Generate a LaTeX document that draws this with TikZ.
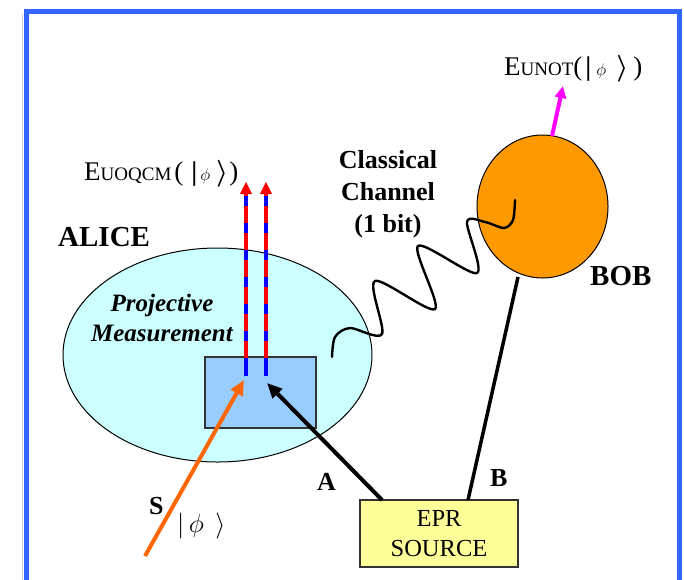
\documentclass[tikz,border=0pt]{standalone}
\usepackage{fix-cm}
\usepackage{fontspec}
\setmainfont{Liberation Serif}
\usetikzlibrary{shapes.geometric,arrows.meta}
\definecolor{frameblue}{HTML}{3366FF}
\definecolor{alicecyan}{HTML}{CCFFFF}
\definecolor{boxblue}{HTML}{99CCFF}
\definecolor{boborange}{HTML}{FF9900}
\definecolor{epryellow}{HTML}{FFFF99}
\definecolor{sorange}{HTML}{FF6600}
\definecolor{pinkarrow}{HTML}{FF00FF}
\definecolor{edgegray}{HTML}{333333}
\definecolor{dashblue}{HTML}{0000FF}
\definecolor{dashred}{HTML}{FF0000}
\begin{document}
\begin{tikzpicture}[x=1pt,y=-1pt,
  bigbold/.style={font=\fontsize{29}{32}\selectfont\bfseries, inner sep=0},
  midbold/.style={font=\fontsize{26}{32}\selectfont\bfseries, inner sep=0},
  chanlabel/.style={font=\fontsize{26}{32}\selectfont\bfseries, inner sep=0, align=center},
  projlabel/.style={font=\fontsize{25}{30}\selectfont\bfseries\itshape, inner sep=0, align=center},
  formula/.style={font=\fontsize{27}{27}\selectfont, inner sep=0},
  thickarrow/.style={line width=4pt, -{Triangle[length=15pt,width=13pt]}},
  qline/.style={line width=4.5pt},
  wave/.style={line width=2.4pt, line cap=round, line join=round}]
\useasboundingbox (0,0) rectangle (684,579);
% frame
\draw[gray!35, line width=1pt] (22.5,14) -- (22.5,582);
\draw[frameblue, line width=5pt] (26,582) -- (26,11) -- (679.5,11) -- (679.5,582);
% Alice region and measurement box
\node[ellipse, draw=black, line width=1pt, fill=alicecyan, minimum width=309pt, minimum height=214pt, inner sep=0] (alice) at (217.5,355) {};
\node[draw=edgegray, line width=1.3pt, fill=boxblue, minimum width=111pt, minimum height=71pt, inner sep=0] (meas) at (260.5,392.5) {};
% output lines of the measurement
\coordinate (q1b) at (246,376);
\coordinate (q1m) at (246,358);
\coordinate (q1t) at (246,194);
\coordinate (q1h) at (246,182);
\coordinate (q2b) at (266,376);
\coordinate (q2m) at (266,358);
\coordinate (q2t) at (266,194);
\coordinate (q2h) at (266,182);
\draw[qline, dashblue] (q1b) -- (q1t);
\draw[qline, dashred, dash pattern=on 17pt off 10pt] (q1m) -- (q1t);
\draw[dashred, line width=1pt, -{Triangle[length=12pt,width=12pt]}] (q1t) -- (q1h);
\draw[qline, dashblue] (q2b) -- (q2t);
\draw[qline, dashred, dash pattern=on 17pt off 10pt] (q2m) -- (q2t);
\draw[dashred, line width=1pt, -{Triangle[length=12pt,width=12pt]}] (q2t) -- (q2h);
% Bob
\node[ellipse, draw=black, line width=1pt, fill=boborange, minimum width=131pt, minimum height=143pt, inner sep=0] (bob) at (542.5,206.5) {};
% EPR source
\node[draw=edgegray, line width=1.3pt, fill=epryellow, minimum width=158pt, minimum height=67pt, inner sep=0, align=center, font=\fontsize{24.5}{30}\selectfont] (epr) at (439,533.5) {EPR\\SOURCE};
% connectors
\coordinate (eprA) at (382,500);
\coordinate (eprB) at (468,500);
\coordinate (bobB) at (518,277);
\coordinate (measA) at (267,383);
\coordinate (sstart) at (145,556);
\coordinate (measS) at (244,380);
\coordinate (bobtop) at (552,136);
\coordinate (unottip) at (563,86);
\draw[line width=3.5pt] (eprB) -- (bobB);
\draw[thickarrow, black] (eprA) -- (measA);
\draw[thickarrow, sorange] (sstart) -- (measS);
\draw[line width=4pt, pinkarrow, -{Triangle[length=12pt,width=11pt]}] (bobtop) -- (unottip);
% classical channel wave
\draw[wave] plot[smooth, tension=0.5] coordinates {(332,357) (335,337) (350,328) (382,334) (375,281) (435,309) (418,246) (477,273) (467,222) (485,222) (504,228) (513,220) (515,200)};
% labels
\node[bigbold, anchor=base west] (alicelbl) at (58,246) {ALICE};
\node[bigbold, anchor=base west] (boblbl) at (590,285) {BOB};
\node[midbold, anchor=base west] (albl) at (317,490) {A};
\node[midbold, anchor=base west] (blbl) at (490,486) {B};
\node[midbold, anchor=base west] (slbl) at (149,514) {S};
\node[inner sep=0, anchor=west, font=\fontsize{26}{26}\selectfont] (phiS) at (177,526) {$\bigl|\,\phi\;\,\bigr\rangle$};
\node[chanlabel, anchor=north] (chan) at (388,150) {Classical\\Channel\\(1 bit)};
\node[projlabel, anchor=north] (proj) at (162,294) {Projective\\Measurement};
\node[formula, anchor=base west] (euoqcm) at (84,180) {E{\fontsize{19}{19}\selectfont UOQCM}\hspace{3pt}(\hspace{8pt}{\bfseries\textbar}\hspace{3pt}{\fontsize{17}{17}\selectfont$\phi$}\hspace{6pt}{\boldmath$\rangle$}\hspace{1pt})};
\node[formula, anchor=base west] (eunot) at (504,75) {E{\fontsize{19}{19}\selectfont UNOT}(\hspace{3pt}{\bfseries\textbar}\hspace{5pt}{\fontsize{17}{17}\selectfont$\phi$}\hspace{10pt}{\boldmath$\rangle$}\hspace{5pt})};
\end{tikzpicture}
\end{document}
